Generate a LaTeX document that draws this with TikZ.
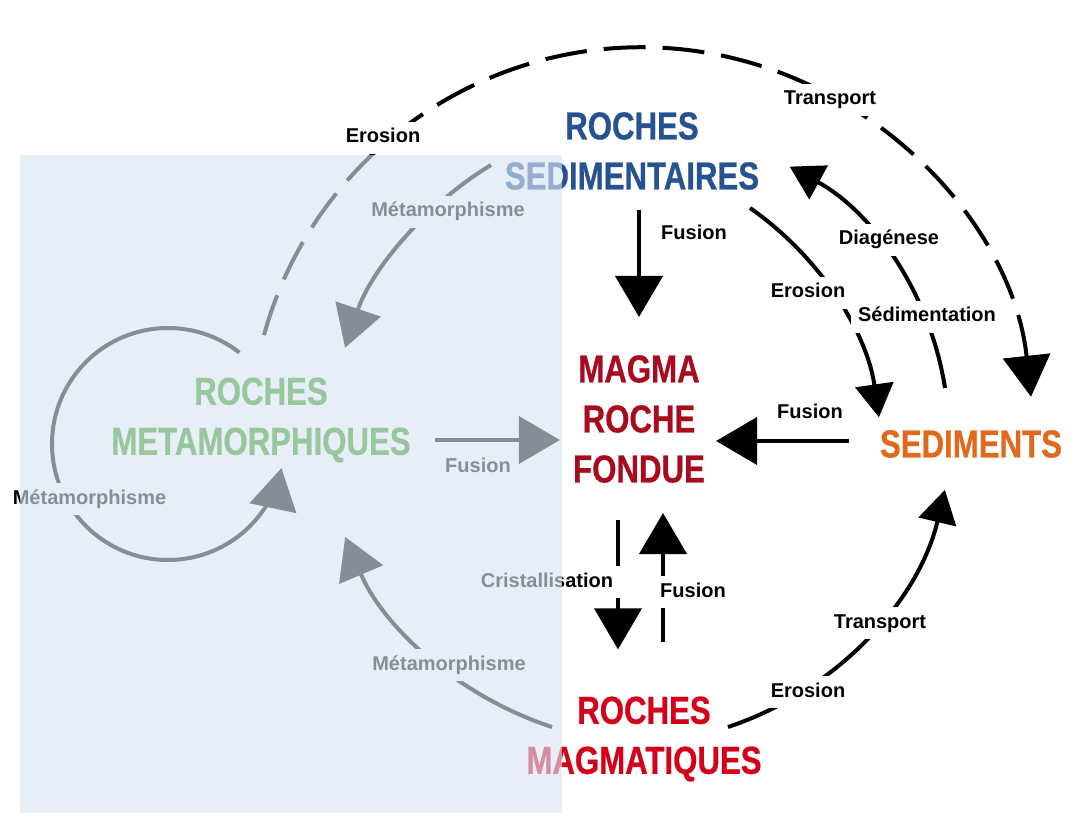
\documentclass[tikz,border=0pt]{standalone}
\usepackage{fontspec}
\setmainfont{Liberation Sans}
\newfontfamily\headfont[FakeStretch=0.8, BoldFeatures={FakeBold=0.6}]{Liberation Sans}
\usetikzlibrary{arrows.meta}

\definecolor{veil}{RGB}{218,229,245}
\definecolor{sedblue}{RGB}{38,82,145}
\definecolor{magmared}{RGB}{168,10,30}
\definecolor{ignred}{RGB}{212,0,25}
\definecolor{sedorange}{RGB}{225,105,30}
\definecolor{metagreen}{RGB}{45,150,15}

\tikzset{
  rock/.style={font=\headfont\bfseries\fontsize{39}{50}\selectfont, align=center, inner sep=0pt},
  proc/.style={font=\bfseries\fontsize{20}{22}\selectfont, fill=white, inner sep=7pt,
               text height=14pt, text depth=4pt, anchor=base},
  flow/.style={line width=4pt, -{Triangle[length=41pt,width=47pt]}},
  bendflow/.style={line width=4pt, -{Triangle[length=33pt,width=38pt]}},
}

\begin{document}
\begin{tikzpicture}[x=1pt, y=-1pt]

  \useasboundingbox (0,0) rectangle (1072,813);
  \fill[white] (0,0) rectangle (1072,813);

  % Rock families
  \node[rock, text=sedblue] (sed) at (632,151) {ROCHES\\SEDIMENTAIRES};
  \node[rock, text=magmared] (magma) at (639,419) {MAGMA\\ROCHE\\FONDUE};
  \node[rock, text=metagreen] (meta) at (261,420) {ROCHES\\METAMORPHIQUES};
  \node[rock, text=sedorange] (sediments) at (971,444) {SEDIMENTS};
  \node[rock, text=ignred] (magmatiques) at (644,739) {ROCHES\\MAGMATIQUES};

  % Start points of the curved paths
  \coordinate (metaN) at (264,335);
  \coordinate (metaLoop) at (239.4,352.6);
  \coordinate (sedW) at (491,165);
  \coordinate (sedE) at (750,208);
  \coordinate (sedimentsN) at (945,388);
  \coordinate (magmatiquesW) at (552,727);
  \coordinate (magmatiquesE) at (728,727);

  % Straight paths
  \draw[flow, shorten <=20pt, shorten >=38pt] (magma.north |- sed.south) -- (magma.north);
  \draw[flow, shorten <=31pt, shorten >=11pt]
        ([yshift=3pt]sediments.west) -- ([yshift=3pt]sediments.west -| magma.east);
  \draw[flow, shorten <=24pt, shorten >=13pt]
        ([yshift=-20pt]meta.east) -- ([yshift=-20pt]meta.east -| magma.west);
  \draw[flow, shorten <=37pt, shorten >=47pt]
        ([xshift=-21pt]magma.south) -- ([xshift=-21pt]magma.south |- magmatiques.north);
  \draw[flow, shorten <=54pt, shorten >=30pt]
        ([xshift=19pt]magmatiques.north) -- ([xshift=19pt]magmatiques.north |- magma.south);

  % Curved paths
  \draw[flow, dash pattern=on 42pt off 17pt]
        (metaN) arc[start angle=195.4, end angle=353.8, radius=391.7];
  \draw[flow] (metaLoop) arc[start angle=-52, end angle=-348, radius=116];
  \draw[flow] (sedW) arc[start angle=238.6, end angle=198.6, radius=342];
  \draw[flow] (magmatiquesW) arc[start angle=108.1, end angle=157.1, radius=338.7];
  \draw[bendflow] (sedE) arc[start angle=-55.2, end angle=-8.1, radius=307.6];
  \draw[bendflow] (sedimentsN) arc[start angle=-8.8, end angle=-61.3, radius=305.7];
  \draw[bendflow] (magmatiquesE) arc[start angle=71.6, end angle=13.3, radius=329.9];

  % Process names
  \node[proc] (erosionA) at (383,143) {Erosion};
  \node[proc] (transportA) at (830,105) {Transport};
  \node[proc] (metamA) at (448,217) {Métamorphisme};
  \node[proc] (fusionA) at (694,240) {Fusion};
  \node[proc] (diagenese) at (889,245) {Diagénese};
  \node[proc] (erosionB) at (808,298) {Erosion};
  \node[proc] (sedimentation) at (927,322) {Sédimentation};
  \node[proc] (fusionB) at (810,418) {Fusion};
  \node[proc] (fusionC) at (478,472) {Fusion};
  \node[proc] (metamB) at (89.5,504) {Métamorphisme};
  \node[proc] (cristal) at (547,587) {Cristallisation};
  \node[proc] (fusionD) at (693,597) {Fusion};
  \node[proc] (transportB) at (880,628) {Transport};
  \node[proc] (metamC) at (449,670) {Métamorphisme};
  \node[proc] (erosionC) at (808,697) {Erosion};

  % Pale panel laid over the left part
  \fill[veil, opacity=0.62] (20,155) rectangle (562,813);

\end{tikzpicture}
\end{document}
